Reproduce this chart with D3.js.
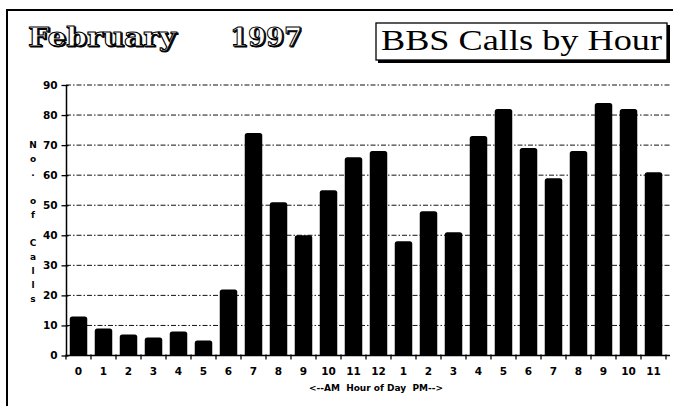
<!DOCTYPE html>
<html>
<head>
<meta charset="utf-8">
<script src="https://cdn.jsdelivr.net/npm/d3@7"></script>
<style>
  body { margin: 0; background: #fff; }
  svg { display: block; }
  .tick text { font-family: "DejaVu Sans", sans-serif; font-weight: bold; font-size: 10.5px; fill: #000; }
</style>
</head>
<body>
<div id="chart"></div>
<script>
// data
var hourLabels = ["0","1","2","3","4","5","6","7","8","9","10","11","12","1","2","3","4","5","6","7","8","9","10","11"];
var callCounts = [13, 9, 7, 6, 8, 5, 22, 74, 51, 40, 55, 66, 68, 38, 48, 41, 73, 82, 69, 59, 68, 84, 82, 61];
var yTicks = [0, 10, 20, 30, 40, 50, 60, 70, 80, 90];
var yLabelChars = ["N", "o", ".", "", "o", "f", "", "C", "a", "l", "l", "s"];

var svgWidth = 673;
var svgHeight = 406;

var svg = d3.select("#chart")
  .append("svg")
  .attr("width", svgWidth)
  .attr("height", svgHeight);

// outer frame (only top + left edges show)
svg.append("path")
  .attr("d", "M7,406 V10 H673")
  .attr("fill", "none")
  .attr("stroke", "#000")
  .attr("stroke-width", 2);

// outlined headline text (white letters, black outline, small shadow)
function outlined(txt, x, len) {
  svg.append("text")
    .attr("x", x + 1.3).attr("y", 47.3)
    .attr("textLength", len).attr("lengthAdjust", "spacingAndGlyphs")
    .style("font-family", "DejaVu Serif, serif")
    .style("font-weight", "bold")
    .style("font-size", "26px")
    .attr("fill", "#000")
    .attr("stroke", "#000")
    .attr("stroke-width", 1)
    .text(txt);
  svg.append("text")
    .attr("x", x).attr("y", 46)
    .attr("textLength", len).attr("lengthAdjust", "spacingAndGlyphs")
    .style("font-family", "DejaVu Serif, serif")
    .style("font-weight", "bold")
    .style("font-size", "26px")
    .attr("fill", "#fff")
    .attr("stroke", "#000")
    .attr("stroke-width", 1)
    .text(txt);
}
outlined("February", 28, 148);
outlined("1997", 230, 72);

// boxed title with a little shadow
svg.append("rect")
  .attr("x", 378).attr("y", 25)
  .attr("width", 292).attr("height", 38)
  .attr("fill", "#000");
svg.append("rect")
  .attr("x", 376).attr("y", 23)
  .attr("width", 291).attr("height", 37)
  .attr("fill", "#fff")
  .attr("stroke", "#000")
  .attr("stroke-width", 1.3);
svg.append("text")
  .attr("x", 381).attr("y", 50)
  .attr("textLength", 281).attr("lengthAdjust", "spacingAndGlyphs")
  .style("font-family", "Liberation Serif, serif")
  .style("font-size", "29px")
  .text("BBS Calls by Hour");

// scales
var x = d3.scaleBand()
  .domain(d3.range(hourLabels.length))
  .range([66, 666])
  .paddingInner(0.3)
  .paddingOuter(0.15);

var y = d3.scaleLinear()
  .domain([0, 90])
  .range([355.5, 85]);

var plotRight = 670;

// grid lines
svg.append("g")
  .selectAll("line")
  .data(yTicks.filter(d => d > 0))
  .enter()
  .append("line")
  .attr("x1", 66).attr("x2", plotRight)
  .attr("y1", d => y(d)).attr("y2", d => y(d))
  .attr("stroke", "#111")
  .attr("stroke-width", 1)
  .attr("stroke-dasharray", "5,2,1.5,2");

// bars, rounded top corners
var r = 2.5;
svg.append("g")
  .selectAll("path")
  .data(callCounts)
  .enter()
  .append("path")
  .attr("d", function(d, i) {
    var x0 = x(i), w = x.bandwidth(), y0 = y(d), yb = y(0);
    return "M" + x0 + "," + yb + "V" + (y0 + r) + "Q" + x0 + "," + y0 + " " + (x0 + r) + "," + y0 +
      "H" + (x0 + w - r) + "Q" + (x0 + w) + "," + y0 + " " + (x0 + w) + "," + (y0 + r) + "V" + yb + "Z";
  })
  .attr("fill", "#000");

// y axis
var leftAxis = d3.axisLeft(y).tickValues(yTicks).tickSize(5).tickPadding(4);
var yAxis = svg.append("g")
  .attr("transform", "translate(66.5,0)")
  .call(leftAxis);
yAxis.select(".domain").attr("stroke-width", 1.5).attr("d", "M0," + y(0) + "V" + y(90));
yAxis.selectAll(".tick line").attr("x2", -5).attr("x1", 2).attr("stroke-width", 1.3);
yAxis.selectAll(".tick text").attr("x", -9);

// x axis: labels centred under bars, ticks at band boundaries
var bottomAxis = d3.axisBottom(x).tickSize(0).tickPadding(12).tickFormat(i => hourLabels[i]);
var xAxis = svg.append("g")
  .attr("transform", "translate(0," + y(0) + ")")
  .call(bottomAxis);
xAxis.select(".domain").attr("d", "M66," + 0 + "H" + plotRight).attr("stroke-width", 1.5);

var gap = x.step() * x.paddingInner();
svg.append("g")
  .selectAll("line")
  .data(d3.range(hourLabels.length + 1))
  .enter()
  .append("line")
  .attr("x1", i => i < hourLabels.length ? x(i) - gap / 2 : x(i - 1) + x.bandwidth() + gap / 2)
  .attr("x2", i => i < hourLabels.length ? x(i) - gap / 2 : x(i - 1) + x.bandwidth() + gap / 2)
  .attr("y1", y(0) - 1).attr("y2", y(0) + 4)
  .attr("stroke", "#000")
  .attr("stroke-width", 1.3);

// axis titles
svg.append("text")
  .attr("x", 376).attr("y", 391)
  .attr("text-anchor", "middle")
  .style("font-family", "DejaVu Sans, sans-serif")
  .style("font-weight", "bold")
  .style("font-size", "9px")
  .attr("xml:space", "preserve")
  .text("<--AM  Hour of Day  PM-->");

var yLab = svg.append("text")
  .attr("text-anchor", "middle")
  .style("font-family", "DejaVu Sans, sans-serif")
  .style("font-weight", "bold")
  .style("font-size", "9px");
yLab.selectAll("tspan")
  .data(yLabelChars)
  .enter()
  .append("tspan")
  .attr("x", 33)
  .attr("y", (d, i) => 148 + i * 14)
  .text(d => d);
</script>
</body>
</html>
